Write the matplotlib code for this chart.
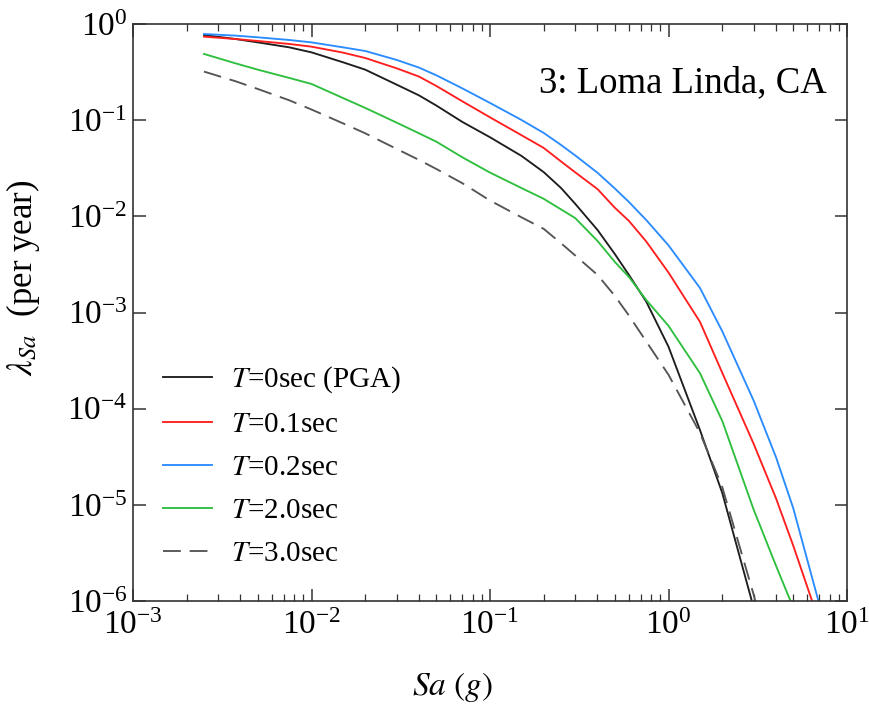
import numpy as np
import matplotlib
matplotlib.use("Agg")
import matplotlib.pyplot as plt
from matplotlib.ticker import LogLocator, NullLocator

plt.rcParams['font.family'] = ['Liberation Serif', 'DejaVu Serif']
plt.rcParams['mathtext.fontset'] = 'stix'

# Spectral acceleration levels (g)
sa = [0.0025, 0.00375, 0.005, 0.0075, 0.01, 0.015, 0.02, 0.03, 0.04, 0.05,
      0.07, 0.1, 0.15, 0.2, 0.25, 0.3, 0.4, 0.5, 0.6, 0.75, 1.0, 1.5, 2.0,
      3.0, 4.0, 5.0, 7.0]

# Annual rate of exceedance for each period
lam_pga = [0.768, 0.698, 0.644, 0.572, 0.507, 0.4, 0.335, 0.234, 0.181, 0.142,
           0.0958, 0.0664, 0.0425, 0.0288, 0.0197, 0.0135, 0.00722, 0.00406,
           0.00246, 0.0013, 4.4e-4, 6.0e-5, 1.33e-5, 8.5e-7,
           np.nan, np.nan, np.nan]
lam_t01 = [0.738, 0.698, 0.666, 0.62, 0.581, 0.504, 0.443, 0.346, 0.284, 0.227,
           0.157, 0.107, 0.0698, 0.0514, 0.0372, 0.0287, 0.0192, 0.0123,
           0.00896, 0.00548, 0.0026, 8.0e-4, 2.36e-4, 4.3e-5, 1.17e-5,
           3.75e-6, 6.0e-7]
lam_t02 = [0.787, 0.757, 0.727, 0.682, 0.644, 0.572, 0.524, 0.423, 0.352, 0.293,
           0.214, 0.151, 0.1005, 0.0736, 0.0552, 0.043, 0.0284, 0.0195,
           0.0141, 0.00916, 0.00499, 0.0018, 6.38e-4, 1.21e-4, 3.13e-5,
           9.2e-6, 9.2e-7]
lam_t20 = [0.488, 0.39, 0.335, 0.275, 0.238, 0.17, 0.134, 0.0942, 0.073, 0.0598,
           0.0411, 0.0285, 0.0197, 0.0152, 0.0118, 0.0096, 0.00555, 0.00336,
           0.00234, 0.00135, 7.26e-4, 2.34e-4, 7.46e-5, 8.9e-6, 2.33e-6,
           8.5e-7, np.nan]
lam_t30 = [0.32, 0.254, 0.211, 0.161, 0.129, 0.0927, 0.073, 0.0502, 0.0386,
           0.0311, 0.0221, 0.0146, 0.00977, 0.0074, 0.00525, 0.00392, 0.00246,
           0.00149, 9.3e-4, 5.0e-4, 2.25e-4, 5.6e-5, 1.53e-5, 1.16e-6, 1.4e-7,
           np.nan, np.nan]

labels = [r'$T$=0sec (PGA)', r'$T$=0.1sec', r'$T$=0.2sec',
          r'$T$=2.0sec', r'$T$=3.0sec']
site = '3: Loma Linda, CA'

fig = plt.figure(figsize=(8.7, 7.1), dpi=100)
ax = fig.add_axes([0.1529, 0.1535, 0.8207, 0.8127])

lw = 1.35
ax.plot(sa, lam_pga, color='#1e1e1e', lw=lw, label=labels[0])
ax.plot(sa, lam_t01, color='#ff1f1f', lw=lw, label=labels[1])
ax.plot(sa, lam_t02, color='#2b8cff', lw=lw, label=labels[2])
ax.plot(sa, lam_t20, color='#2fbf3f', lw=lw, label=labels[3])
ax.plot(sa, lam_t30, color='#555555', lw=lw, dashes=(9.5, 4.7),
        label=labels[4])

ax.set_xscale('log')
ax.set_yscale('log')
ax.set_xlim(1e-3, 1e1)
ax.set_ylim(1e-6, 1e0)

ax.xaxis.set_major_locator(LogLocator(base=10, numticks=10))
ax.xaxis.set_minor_locator(LogLocator(base=10, subs=np.arange(2, 10), numticks=20))
ax.yaxis.set_major_locator(LogLocator(base=10, numticks=10))
ax.yaxis.set_minor_locator(NullLocator())

for s in ax.spines.values():
    s.set_linewidth(1.2)
    s.set_color('#333333')
ax.tick_params(which='both', direction='in', top=True, right=True,
               color='#333333')
ax.tick_params(which='major', length=9, width=1.1, labelsize=24)
ax.tick_params(axis='x', which='major', pad=7)
ax.tick_params(axis='y', which='major', pad=4)
ax.tick_params(which='minor', length=5, width=0.9)

ax.set_xlabel(r'$Sa\ (g)$', fontsize=24)
ax.xaxis.set_label_coords(0.447, -0.12)
ax.set_ylabel(r'$\lambda_{Sa}$  (per year)', fontsize=25)
ax.yaxis.set_label_coords(-0.127, 0.56)

ax.text(0.972, 0.882, site, transform=ax.transAxes, ha='right',
        va='baseline', fontsize=26.5)

ax.legend(loc='lower left', bbox_to_anchor=(0.005, 0.013), frameon=False,
          fontsize=21, handlelength=1.7, handletextpad=0.65,
          labelspacing=0.57)

fig.savefig('out.png', dpi=100)
